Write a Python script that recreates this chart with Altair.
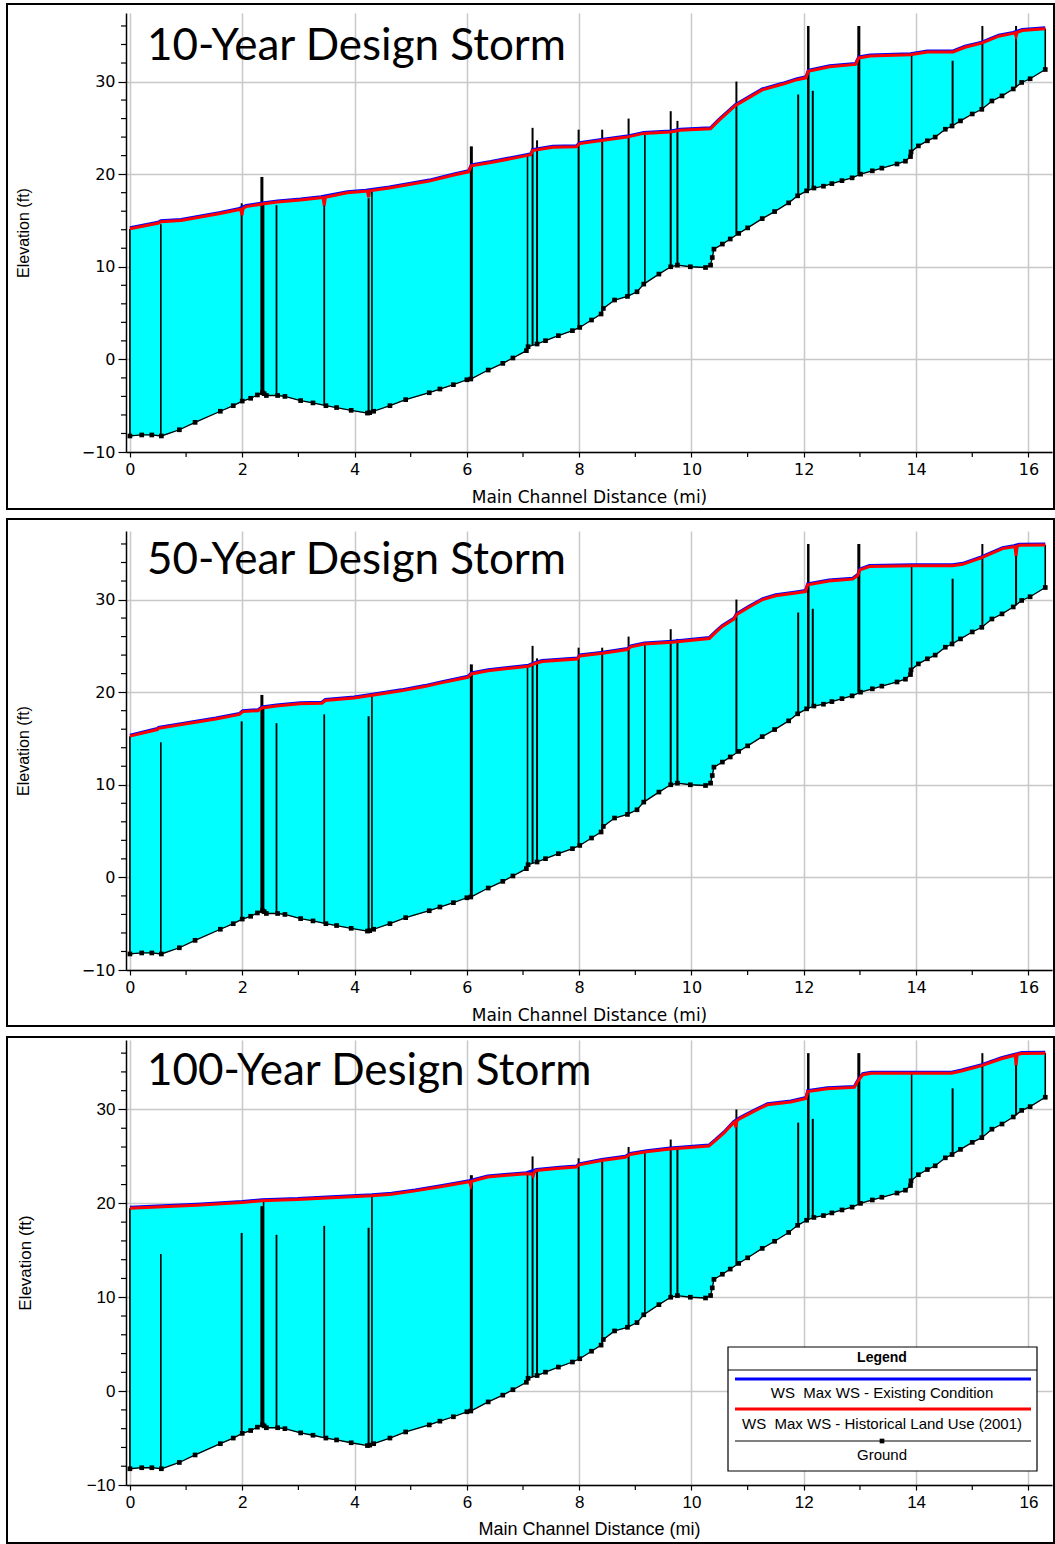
import altair as alt
import pandas as pd

# ---------------------------------------------------------------------------
# Channel invert (ground) profile, miles upstream vs. elevation in feet
# ---------------------------------------------------------------------------
ground_mi = [0.0, 0.21, 0.39, 0.56, 0.88, 1.16, 1.61, 1.84, 2.0, 2.15, 2.27, 2.36, 2.39,
             2.43, 2.63, 2.76, 3.04, 3.26, 3.49, 3.68, 3.94, 4.23, 4.27, 4.34, 4.63, 4.91,
             5.33, 5.52, 5.76, 6.0, 6.07, 6.38, 6.64, 6.82, 7.06, 7.09, 7.25, 7.40, 7.63,
             7.88, 8.01, 8.22, 8.39, 8.43, 8.63, 8.86, 9.03, 9.15, 9.42, 9.63, 9.75, 9.98,
             10.25, 10.34, 10.37, 10.40, 10.55, 10.69, 10.84, 11.0, 11.26, 11.48, 11.73,
             11.89, 12.05, 12.18, 12.35, 12.50, 12.68, 12.86, 13.01, 13.22, 13.39, 13.66,
             13.81, 13.90, 13.91, 14.04, 14.20, 14.34, 14.52, 14.64, 14.79, 15.0, 15.17,
             15.35, 15.53, 15.73, 15.88, 16.03, 16.30]
ground_ft = [-8.27, -8.16, -8.16, -8.27, -7.6, -6.8, -5.6, -5.0, -4.5, -4.2, -3.84, -3.6, -3.7,
             -3.9, -3.9, -4.0, -4.45, -4.7, -5.0, -5.2, -5.5, -5.8, -5.75, -5.6, -5.0, -4.35,
             -3.6, -3.2, -2.73, -2.2, -2.12, -1.15, -0.43, 0.15, 0.94, 1.37, 1.66, 2.02, 2.56,
             3.10, 3.45, 4.25, 4.90, 5.50, 6.41, 6.80, 7.30, 8.13, 9.21, 10.0, 10.18, 10.0,
             9.92, 10.18, 11.0, 11.9, 12.45, 13.0, 13.6, 14.2, 15.2, 15.96, 16.9,
             17.66, 18.2, 18.5, 18.7, 18.98, 19.3, 19.6, 20.0, 20.36, 20.65, 21.1,
             21.4, 21.9, 22.4, 23.05, 23.6, 24.0, 24.85, 25.2, 25.75, 26.5, 27.0,
             27.9, 28.45, 29.2, 29.9, 30.3, 31.3]

# ---------------------------------------------------------------------------
# Maximum water surface profiles (Historical Land Use 2001 run)
# ---------------------------------------------------------------------------
ws10_mi = [0.0, 0.5, 0.55, 0.91, 1.61, 1.93, 2.07, 2.39, 2.63, 3.04, 3.40, 3.87, 4.20,
           4.62, 5.33, 5.77, 6.03, 6.08, 6.43, 7.06, 7.14, 7.17, 7.53, 7.95, 8.01, 8.43,
           8.85, 9.15, 9.63, 9.80, 10.34, 10.48, 10.78, 11.26, 11.62, 11.88, 12.04, 12.08,
           12.46, 12.92, 12.98, 13.18, 13.90, 14.20, 14.66, 14.87, 15.17, 15.47, 15.73,
           15.89, 16.30]
ws10_ft = [14.1, 14.7, 14.85, 15.0, 15.75, 16.15, 16.5, 16.8, 17.0, 17.2, 17.45, 18.0, 18.15,
           18.5, 19.25, 19.9, 20.25, 20.9, 21.25, 22.0, 22.1, 22.55, 22.9, 22.95, 23.3, 23.67,
           24.0, 24.4, 24.55, 24.75, 24.9, 25.75, 27.4, 29.1, 29.7, 30.2, 30.4, 31.1,
           31.6, 31.85, 32.55, 32.76, 32.9, 33.2, 33.2, 33.7, 34.15, 34.9, 35.2,
           35.5, 35.7]
# local drawdown notches at structures
dip10_mi = [1.975, 1.995, 2.015, 3.44, 3.46, 3.48, 4.23, 4.25, 4.27, 15.76, 15.78, 15.80]
dip10_ft = [16.2, 15.55, 16.3, 17.45, 16.6, 17.5, 18.15, 17.5, 18.2, 35.25, 34.9, 35.3]

ws50_mi = [0.0, 0.49, 0.51, 1.53, 1.95, 2.01, 2.28, 2.35, 2.61, 3.03, 3.42, 3.48, 3.99,
           4.29, 4.83, 5.25, 5.54, 6.02, 6.08, 6.38, 7.10, 7.22, 7.34, 7.97, 8.01, 8.42,
           8.86, 8.92, 9.16, 9.66, 10.32, 10.44, 10.55, 10.76, 10.80, 11.03, 11.27, 11.50,
           11.86, 12.03, 12.07, 12.45, 12.87, 12.96, 13.0, 13.17, 13.94, 14.65, 14.83,
           15.16, 15.54, 15.74, 15.84, 16.30]
ws50_ft = [15.25, 15.96, 16.1, 17.1, 17.6, 17.9, 18.0, 18.3, 18.5, 18.75, 18.8, 19.1, 19.36,
           19.64, 20.14, 20.6, 21.0, 21.6, 21.96, 22.3, 22.8, 23.1, 23.3, 23.57, 23.9, 24.2,
           24.6, 24.9, 25.2, 25.4, 25.8, 26.5, 27.1, 27.9, 28.36, 29.2, 30.0, 30.4,
           30.7, 30.86, 31.6, 32.0, 32.2, 32.6, 33.2, 33.57, 33.64, 33.64, 33.8,
           34.5, 35.5, 35.7, 35.86, 35.9]
dip50_mi = [15.76, 15.78, 15.80]
dip50_ft = [35.7, 34.7, 35.75]

ws100_mi = [0.0, 0.59, 1.19, 2.0, 2.35, 2.99, 3.59, 4.31, 4.66, 5.08, 5.56, 6.04, 6.37,
            7.06, 7.24, 7.65, 7.95, 8.0, 8.40, 8.82, 8.91, 9.20, 9.62, 10.31, 10.43, 10.58,
            10.75, 10.87, 11.11, 11.35, 11.77, 12.04, 12.07, 12.42, 12.90, 12.96, 13.05,
            13.20, 14.63, 14.81, 15.17, 15.52, 15.74, 15.88, 16.30]
ws100_ft = [19.47, 19.65, 19.8, 20.1, 20.28, 20.4, 20.6, 20.8, 20.98, 21.33, 21.8, 22.3, 22.8,
            23.16, 23.5, 23.75, 23.86, 24.1, 24.56, 24.9, 25.2, 25.5, 25.8, 26.1, 26.7, 27.5,
            28.6, 29.05, 29.8, 30.5, 30.8, 31.16, 31.9, 32.2, 32.35, 33.0, 33.7,
            33.86, 33.86, 34.1, 34.67, 35.4, 35.75, 35.96, 36.0]
dip100_mi = [6.05, 6.07, 6.09, 7.16, 7.18, 7.20, 10.77, 10.79, 10.81, 15.765, 15.78, 15.80]
dip100_ft = [22.3, 21.9, 22.35, 23.12, 22.9, 23.3, 28.65, 28.1, 28.8, 35.8, 34.7, 35.85]

# ---------------------------------------------------------------------------
# Bridges / culverts / weirs: invert and top-of-structure elevations
# ---------------------------------------------------------------------------
struct_mi = [0.55, 1.99, 2.35, 2.61, 3.46, 4.25, 6.08, 7.17, 7.25, 7.99, 8.41, 8.88, 9.63,
             9.75, 10.80, 11.90, 12.08, 12.16, 12.98, 14.65, 15.18, 15.78]
struct_base = [-8.27, -4.52, -3.72, -3.9, -4.97, -5.8, -2.12, 1.5, 1.66, 3.43, 5.1, 6.85, 10.0,
               10.18, 13.45, 17.66, 18.25, 18.45, 19.95, 25.2, 27.0, 29.35]
struct_top = [14.6, 16.85, 19.7, 16.65, 17.6, 17.4, 23.0, 25.0, 23.65, 24.8, 24.8, 26.0, 26.8,
              25.75, 30.0, 28.6, 36.0, 29.0, 36.0, 32.25, 36.0, 36.0]
struct_w = [1.6, 2, 3, 1.8, 1.8, 2, 3, 2, 2, 2, 2, 2, 2, 2, 2, 2, 2.5, 2, 3, 2, 2, 2]

# cross sections drawn up to the computed water surface
sect_mi = [0.0, 2.38, 4.31, 7.08, 9.17, 13.92, 16.30]
sect_base = [-8.27, -3.7, -5.65, 1.1, 8.1, 22.0, 31.3]
sect_top10 = [14.1, 16.8, 18.25, 22.0, 24.4, 32.9, 35.7]
sect_top50 = [15.25, 18.3, 19.64, 22.8, 25.2, 33.64, 35.9]
sect_top100 = [19.47, 20.28, 20.8, 23.16, 25.5, 33.86, 36.0]

x_major = [0, 2, 4, 6, 8, 10, 12, 14, 16]
x_minor = [1, 3, 5, 7, 9, 11, 13, 15]
y_major = [-10, 0, 10, 20, 30]
y_minor = [-8, -6, -4, -2, 2, 4, 6, 8, 12, 14, 16, 18, 22, 24, 26, 28, 32, 34, 36]

legend_labels = ["WS\u00a0 Max WS - Existing Condition",
                 "WS\u00a0 Max WS - Historical Land Use (2001)",
                 "Ground"]

CYAN = "#00FFFF"
BLUE = "#0000FF"
RED = "#FF0000"

W = 926
X_DOM = [-0.07, 16.42]
Y_DOM = [-10, 37.4]
NARROW = "Liberation Sans Narrow, Arial Narrow, Liberation Sans"


def build_panel(title, ws_mi, ws_ft, dip_mi, dip_ft, sect_top, height, frame_top,
                frame_bottom, label_font, label_size, xt_font, xt_size, yt_size,
                xt_pad, yt_pad, heading_y, legend=False, spacer_top=None):
    xs = alt.Scale(domain=X_DOM, nice=False, zero=False)
    ys = alt.Scale(domain=Y_DOM, nice=False, zero=False)

    x_axis = alt.Axis(values=x_major, grid=True, gridColor="#c8c8c8", gridWidth=1.5,
                      domainColor="black", domainWidth=1.5, tickColor="black",
                      tickWidth=1.2, tickSize=5, labelPadding=4, labelFlush=False,
                      labelFont=label_font, labelFontSize=label_size, labelColor="black",
                      title="Main Channel Distance (mi)", titleFont=xt_font,
                      titleFontSize=xt_size, titleFontWeight="normal", titleColor="black",
                      titlePadding=xt_pad, format="d")
    y_axis = alt.Axis(values=y_major, grid=True, gridColor="#c8c8c8", gridWidth=1.5,
                      domainColor="black", domainWidth=1.5, tickColor="black",
                      tickWidth=1.2, tickSize=8, labelPadding=3, labelFlush=False,
                      labelFont=label_font, labelFontSize=label_size, labelColor="black",
                      title="Elevation (ft)", titleFont=NARROW, titleFontSize=yt_size,
                      titleFontWeight="normal", titleColor="black", titlePadding=yt_pad,
                      format="d")

    def X(field):
        return alt.X(field, scale=xs, axis=x_axis)

    def Y(field):
        return alt.Y(field, scale=ys, axis=y_axis)

    one = pd.DataFrame({"a": [0]})

    # outer frame around the whole panel
    frame = alt.Chart(one).mark_rect(
        fillOpacity=0, stroke="black", strokeWidth=2
    ).encode(x=alt.value(-119), x2=alt.value(W + 2),
             y=alt.value(frame_top), y2=alt.value(height + frame_bottom))

    red = pd.DataFrame({"mi": ws_mi + dip_mi, "ft": ws_ft + dip_ft}).sort_values(
        "mi", kind="stable").reset_index(drop=True)
    blue = pd.DataFrame({"mi": ws_mi, "ft": ws_ft})
    gr = pd.DataFrame({"mi": ground_mi, "ft": ground_ft})

    # wetted area: water surface left->right, then channel invert right->left
    poly = pd.concat([red, gr.iloc[::-1]], ignore_index=True)
    poly["k"] = range(len(poly))
    water = alt.Chart(poly).mark_line(fill=CYAN, stroke=CYAN, strokeWidth=1).encode(
        x=X("mi:Q"), y=Y("ft:Q"), order=alt.Order("k:Q"),
    )

    xminor = alt.Chart(pd.DataFrame({"mi": x_minor})).mark_rule(
        color="black", strokeWidth=1.2
    ).encode(x=X("mi:Q"), y=alt.value(height), y2=alt.value(height + 5))
    yminor = alt.Chart(pd.DataFrame({"ft": y_minor})).mark_rule(
        color="black", strokeWidth=1.2
    ).encode(y=Y("ft:Q"), x=alt.value(0), x2=alt.value(-5))

    sdf = pd.DataFrame({
        "mi": struct_mi + sect_mi,
        "ft": struct_base + sect_base,
        "top": struct_top + sect_top,
        "w": struct_w + [1.6] * len(sect_mi),
    })
    structures = alt.Chart(sdf).mark_rule(color="black").encode(
        x=X("mi:Q"), y=Y("ft:Q"), y2="top:Q",
        strokeWidth=alt.StrokeWidth("w:Q", scale=None),
    )

    ground = alt.Chart(gr).mark_line(
        color="black", strokeWidth=1.3,
        point=alt.OverlayMarkDef(shape="square", filled=True, size=22, color="black", opacity=1),
    ).encode(x=X("mi:Q"), y=Y("ft:Q"))

    ws_existing = alt.Chart(blue).mark_line(color=BLUE, strokeWidth=3, yOffset=-1).encode(
        x=X("mi:Q"), y=Y("ft:Q"))
    ws_hist = alt.Chart(red).mark_line(color=RED, strokeWidth=3).encode(
        x=X("mi:Q"), y=Y("ft:Q"))

    heading = alt.Chart(pd.DataFrame({"t": [title]})).mark_text(
        align="left", baseline="alphabetic", font="Lato", fontSize=44, color="black"
    ).encode(x=alt.value(21), y=alt.value(heading_y), text="t:N")

    layers = [frame, water, structures, xminor, yminor, ground, ws_existing,
              ws_hist, heading]

    if spacer_top is not None:
        # blank strip above the frame that keeps the gap between panels
        layers.insert(0, alt.Chart(one).mark_rect(fill="white").encode(
            x=alt.value(-119), x2=alt.value(W + 2),
            y=alt.value(spacer_top), y2=alt.value(frame_top - 1)))

    if legend:
        lx0, lx1, lxc = 602, 911, 756
        top = 307
        layers.append(alt.Chart(one).mark_rect(fill="white", stroke="black", strokeWidth=1.2)
                      .encode(x=alt.value(lx0), x2=alt.value(lx1),
                              y=alt.value(top), y2=alt.value(top + 124)))
        layers.append(alt.Chart(one).mark_rule(color="black", strokeWidth=1)
                      .encode(x=alt.value(lx0), x2=alt.value(lx1), y=alt.value(top + 23)))
        layers.append(alt.Chart(pd.DataFrame({"t": ["Legend"]})).mark_text(
            font="Liberation Sans", fontSize=14, fontWeight="bold", color="black",
            baseline="middle").encode(x=alt.value(lxc), y=alt.value(top + 11), text="t:N"))
        for color, width, dy_line, label, dy_text in [
            (BLUE, 3, 32, legend_labels[0], 46),
            (RED, 3, 62, legend_labels[1], 77),
            ("black", 1, 94, legend_labels[2], 108),
        ]:
            layers.append(alt.Chart(one).mark_rule(color=color, strokeWidth=width)
                          .encode(x=alt.value(609), x2=alt.value(905),
                                  y=alt.value(top + dy_line)))
            layers.append(alt.Chart(pd.DataFrame({"t": [label]})).mark_text(
                font=NARROW, fontSize=15, color="black", baseline="middle")
                .encode(x=alt.value(lxc), y=alt.value(top + dy_text), text="t:N"))
        layers.append(alt.Chart(one).mark_point(shape="square", filled=True, size=22,
                                                color="black", opacity=1)
                      .encode(x=alt.value(lxc), y=alt.value(top + 94)))

    return alt.layer(*layers).properties(width=W, height=height)


p10 = build_panel("10-Year Design Storm", ws10_mi, ws10_ft, dip10_mi, dip10_ft, sect_top10,
                  439, -9, 57, "DejaVu Sans", 16, "DejaVu Sans", 17, 16, 12, 50, 47)
p50 = build_panel("50-Year Design Storm", ws50_mi, ws50_ft, dip50_mi, dip50_ft, sect_top50,
                  439, -12, 56, "DejaVu Sans", 16, "DejaVu Sans", 17, 16, 12, 50, 43)
p100 = build_panel("100-Year Design Storm", ws100_mi, ws100_ft, dip100_mi, dip100_ft,
                   sect_top100, 445, -3, 58, "Liberation Sans", 17, "Liberation Sans", 18,
                   17, 10, 52, 45, legend=True, spacer_top=-5)

chart = alt.vconcat(p10, p50, p100, spacing=8).properties(
    padding={"left": 6, "top": 3, "right": 0, "bottom": 0},
    background="white",
).configure_view(stroke=None)

chart.save("out.html", embed_options={"renderer": "svg", "actions": False})
